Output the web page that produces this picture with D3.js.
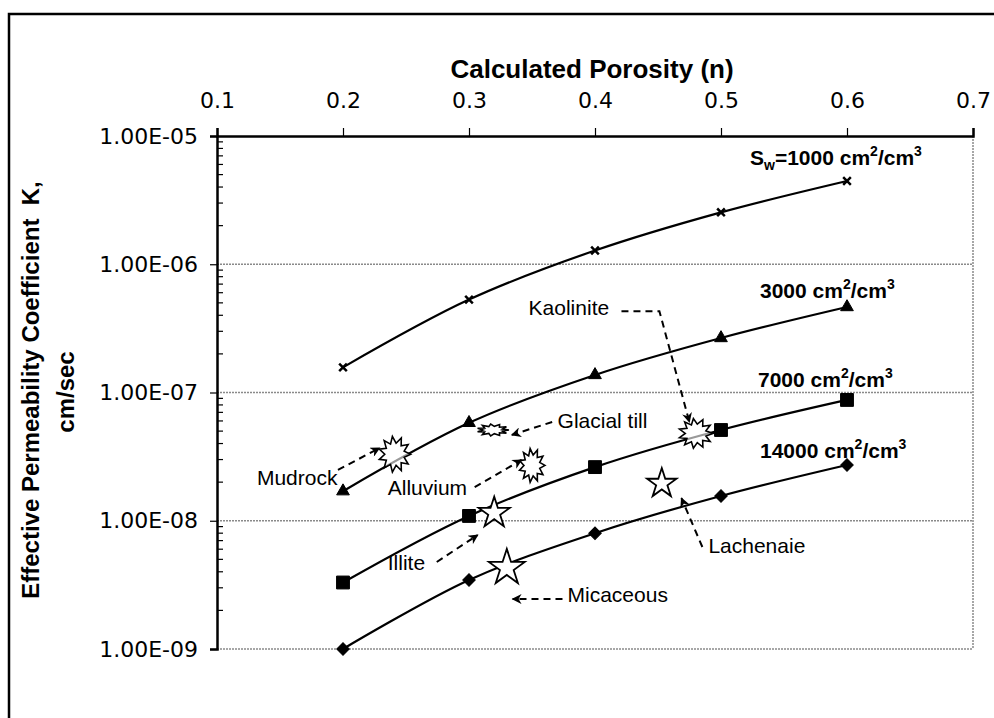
<!DOCTYPE html>
<html>
<head>
<meta charset="utf-8">
<script src="https://cdn.jsdelivr.net/npm/d3@7"></script>
<style>
  body { margin: 0; background: #fff; }
  svg { display: block; }
</style>
</head>
<body>
<div id="chart"></div>
<script>
// porosity (x) and effective permeability K (cm/sec) for each specific surface
var porosity = [0.2, 0.3, 0.4, 0.5, 0.6];
var k1000  = [1.57e-7, 5.3e-7, 1.28e-6, 2.54e-6, 4.46e-6];
var k3000  = [1.7e-8, 5.8e-8, 1.37e-7, 2.66e-7, 4.64e-7];
var k7000  = [3.3e-9, 1.09e-8, 2.62e-8, 5.1e-8, 8.75e-8];
var k14000 = [1.0e-9, 3.45e-9, 8.0e-9, 1.56e-8, 2.72e-8];

var xTicks = [0.1, 0.2, 0.3, 0.4, 0.5, 0.6, 0.7];
var yTicks = [1e-9, 1e-8, 1e-7, 1e-6, 1e-5];

// soil annotations: symbol position, label anchor, dashed arrow path
var annoNames = ["Mudrock", "Glacial till", "Alluvium", "Kaolinite", "Illite", "Micaceous", "Lachenaie"];
var annoShape = ["burst", "burst", "burst", "burst", "star", "star", "star"];
var annoN = [0.241, 0.319, 0.350, 0.480, 0.320, 0.330, 0.453];
var annoK = [3.3e-8, 5.1e-8, 2.7e-8, 4.8e-8, 1.15e-8, 4.3e-9, 1.95e-8];
var labelN = [0.1317, 0.3703, 0.2355, 0.3473, 0.2355, 0.3782, 0.490];
var labelK = [1.90e-8, 5.28e-8, 1.59e-8, 4.02e-7, 4.13e-9, 2.32e-9, 5.61e-9];
var arrowN = [[0.196, 0.229], [0.366, 0.334], [0.3045, 0.3417], [0.421, 0.4511, 0.4749],
              [0.2744, 0.3069], [0.3742, 0.3346], [0.4852, 0.4686]];
var arrowK = [[2.49e-8, 3.69e-8], [5.89e-8, 4.67e-8], [1.83e-8, 2.98e-8], [4.31e-7, 4.31e-7, 5.89e-8],
              [4.77e-9, 7.74e-9], [2.45e-9, 2.45e-9], [6.24e-9, 1.50e-8]];

var W = 994, H = 718;
var plot = { left: 217, right: 973, top: 136, bottom: 649 };

var svg = d3.select("#chart").append("svg")
  .attr("width", W).attr("height", H)
  .style("font-family", "'Liberation Sans', Arial, sans-serif");

svg.append("rect").attr("width", W).attr("height", H).attr("fill", "#fff");
// outer frame (runs off the right and bottom edge)
svg.append("rect")
  .attr("x", 9).attr("y", 14).attr("width", 1000).attr("height", 720)
  .attr("fill", "none").attr("stroke", "#000").attr("stroke-width", 2.5);

var x = d3.scaleLinear().domain([0.1, 0.7]).range([plot.left, plot.right]);
var y = d3.scaleLog().domain([1e-9, 1e-5]).range([plot.bottom, plot.top]);

var defs = svg.append("defs");
defs.append("marker")
  .attr("id", "head")
  .attr("viewBox", "0 0 10 10")
  .attr("refX", 9).attr("refY", 5)
  .attr("markerWidth", 11).attr("markerHeight", 10)
  .attr("markerUnits", "userSpaceOnUse")
  .attr("orient", "auto")
  .append("path").attr("d", "M0,0 L10,5 L0,10 L3,5 z").attr("fill", "#000");

// grid lines and right border, grey dotted
var grid = svg.append("g").attr("stroke", "#8a8a8a").attr("stroke-width", 1.5).attr("stroke-dasharray", "2,1");
grid.selectAll("line.h")
  .data(yTicks.slice(0, 4))
  .enter().append("line").attr("class", "h")
  .attr("x1", plot.left).attr("x2", plot.right)
  .attr("y1", d => y(d)).attr("y2", d => y(d));
grid.append("line")
  .attr("x1", plot.right).attr("x2", plot.right)
  .attr("y1", plot.top).attr("y2", plot.bottom);

// minor log ticks, inside the left axis
var minor = [];
yTicks.slice(0, 4).forEach(function (d) {
  for (var m = 2; m <= 9; m++) minor.push(d * m);
});
svg.append("g").selectAll("line")
  .data(minor)
  .enter().append("line")
  .attr("x1", plot.left).attr("x2", plot.left + 6)
  .attr("y1", d => y(d)).attr("y2", d => y(d))
  .attr("stroke", "#000").attr("stroke-width", 1.2);

// top x axis
var fmtX = d3.format(".1f");
var xAxis = svg.append("g")
  .attr("transform", "translate(0," + plot.top + ")")
  .call(d3.axisTop(x).tickValues(xTicks).tickSize(8).tickPadding(20).tickFormat(fmtX));
xAxis.select(".domain").attr("stroke-width", 2.5);
xAxis.selectAll(".tick line").attr("stroke-width", 1.2);
xAxis.selectAll("text")
  .style("font-family", "'DejaVu Sans', Verdana, sans-serif")
  .style("font-size", "22px").attr("fill", "#000");

// left y axis
function fmtY(d) {
  var e = Math.round(Math.log10(d));
  return "1.00E" + (e < 0 ? "-" : "+") + String(Math.abs(e)).padStart(2, "0");
}
var yAxis = svg.append("g")
  .attr("transform", "translate(" + plot.left + ",0)")
  .call(d3.axisLeft(y).tickValues(yTicks).tickSize(7).tickPadding(12).tickFormat(fmtY));
yAxis.select(".domain").attr("stroke-width", 2.5);
yAxis.selectAll(".tick line").attr("stroke-width", 1.2);
yAxis.selectAll("text")
  .style("font-family", "'DejaVu Sans', Verdana, sans-serif")
  .style("font-size", "22px").attr("fill", "#000");

// axis titles
svg.append("text")
  .attr("x", 592).attr("y", 78)
  .attr("text-anchor", "middle")
  .style("font-weight", "bold").style("font-size", "26px")
  .text("Calculated Porosity (n)");
svg.append("text")
  .attr("transform", "translate(39,390) rotate(-90)")
  .attr("text-anchor", "middle")
  .style("font-weight", "bold").style("font-size", "24px")
  .attr("xml:space", "preserve")
  .text("Effective Permeability Coefficient  K,");
svg.append("text")
  .attr("transform", "translate(74,392) rotate(-90)")
  .attr("text-anchor", "middle")
  .style("font-weight", "bold").style("font-size", "24px")
  .text("cm/sec");

// series
var symStar = d3.symbolTimes || d3.symbolCross;
var series = [
  { values: k1000,  symbol: symStar,           size: 40,  rotate: 0,  stroke: true,
    label: [["S", ""], ["w", "sub"], ["=1000 cm", ""], ["2", "sup"], ["/cm", ""], ["3", "sup"]], dx: -97, dy: -16 },
  { values: k3000,  symbol: d3.symbolTriangle, size: 70,  rotate: 0,  stroke: false,
    label: [["3000 cm", ""], ["2", "sup"], ["/cm", ""], ["3", "sup"]], dx: -87, dy: -9 },
  { values: k7000,  symbol: d3.symbolSquare,   size: 165, rotate: 0,  stroke: false,
    label: [["7000 cm", ""], ["2", "sup"], ["/cm", ""], ["3", "sup"]], dx: -89, dy: -13 },
  { values: k14000, symbol: d3.symbolSquare,   size: 78,  rotate: 45, stroke: false,
    label: [["14000 cm", ""], ["2", "sup"], ["/cm", ""], ["3", "sup"]], dx: -87, dy: -7 }
];

var line = d3.line()
  .x(d => x(d[0]))
  .y(d => y(d[1]))
  .curve(d3.curveCatmullRom.alpha(0.5));

function richText(sel, parts) {
  var shift = 0;
  parts.forEach(function (p) {
    var target = p[1] === "sup" ? -9 : (p[1] === "sub" ? 5 : 0);
    sel.append("tspan")
      .attr("dy", target - shift)
      .style("font-size", p[1] ? "14px" : null)
      .text(p[0]);
    shift = target;
  });
}

series.forEach(function (s) {
  var pts = porosity.map((n, i) => [n, s.values[i]]);
  var g = svg.append("g");
  g.append("path")
    .attr("d", line(pts))
    .attr("fill", "none").attr("stroke", "#000").attr("stroke-width", 2.2);
  g.selectAll("path.mark")
    .data(pts)
    .enter().append("path").attr("class", "mark")
    .attr("transform", d => "translate(" + x(d[0]) + "," + y(d[1]) + ") rotate(" + s.rotate + ")")
    .attr("d", d3.symbol().type(s.symbol).size(s.size))
    .attr("fill", s.stroke ? "none" : "#000")
    .attr("stroke", "#000").attr("stroke-width", s.stroke ? 2.5 : 1);
  var last = pts[pts.length - 1];
  var t = g.append("text")
    .attr("x", x(last[0]) + s.dx).attr("y", y(last[1]) + s.dy)
    .style("font-weight", "bold").style("font-size", "21px");
  richText(t, s.label);
});

// annotation shapes
function burstPath(rx, ry) {
  var spikes = 11, pts = [];
  for (var i = 0; i < spikes * 2; i++) {
    var a = Math.PI * i / spikes;
    var r = i % 2 === 0 ? 1 : 0.62;
    pts.push([Math.cos(a) * rx * r, Math.sin(a) * ry * r]);
  }
  return "M" + pts.join("L") + "Z";
}
var annoSize = [[16, 18], [16, 6], [13, 17], [17, 15], 300, 400, 270];

var anno = svg.append("g");
annoNames.forEach(function (name, i) {
  var cx = x(annoN[i]), cy = y(annoK[i]);
  if (annoShape[i] === "burst") {
    anno.append("path")
      .attr("transform", "translate(" + cx + "," + cy + ")")
      .attr("d", burstPath(annoSize[i][0], annoSize[i][1]))
      .attr("fill", "#fff").attr("fill-opacity", 0.6)
      .attr("stroke", "#000").attr("stroke-width", 1.6);
  } else {
    anno.append("path")
      .attr("transform", "translate(" + cx + "," + cy + ")")
      .attr("d", d3.symbol().type(d3.symbolStar).size(annoSize[i]))
      .attr("fill", "#fff")
      .attr("stroke", "#000").attr("stroke-width", 1.8);
  }
  var apts = arrowN[i].map((n, j) => [x(n), y(arrowK[i][j])]);
  anno.append("path")
    .attr("d", d3.line()(apts))
    .attr("fill", "none").attr("stroke", "#000")
    .attr("stroke-width", 2).attr("stroke-dasharray", "7,5")
    .attr("marker-end", "url(#head)");
  anno.append("text")
    .attr("x", x(labelN[i])).attr("y", y(labelK[i]))
    .style("font-size", "21px")
    .text(name);
});
</script>
</body>
</html>
